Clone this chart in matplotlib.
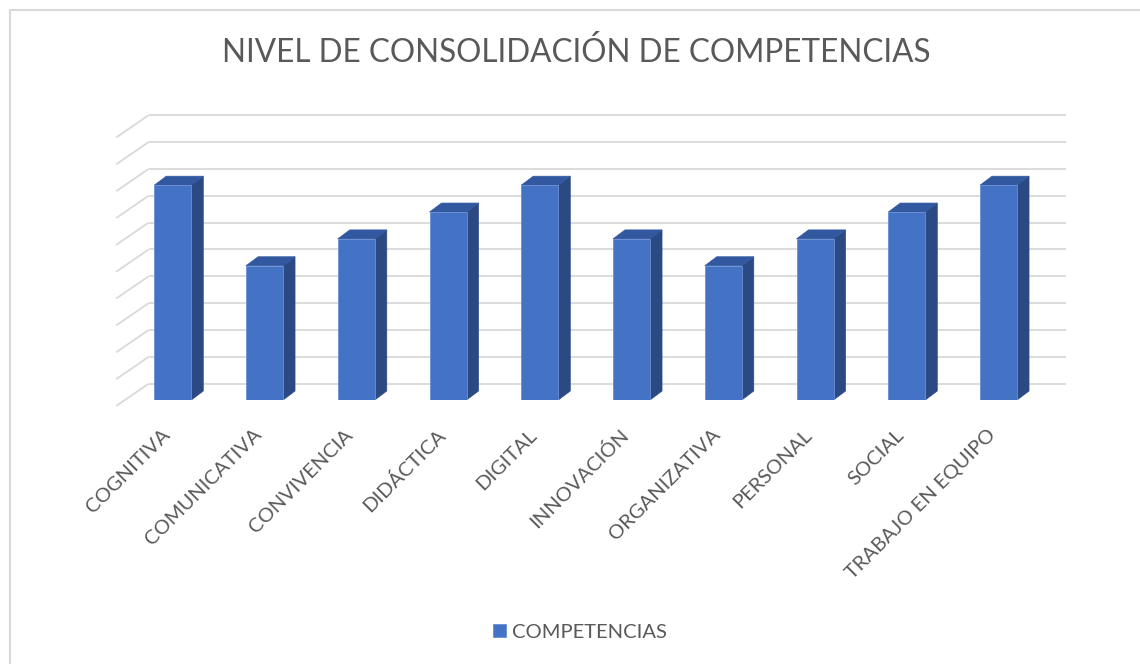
"""
Nivel de consolidacion de competencias: columnas 3D estilo Excel
"""
import numpy as np
import matplotlib
matplotlib.use('Agg')
import matplotlib.pyplot as plt
from matplotlib.patches import Polygon, Rectangle
from matplotlib.transforms import ScaledTranslation

categories = ['COGNITIVA', 'COMUNICATIVA', 'CONVIVENCIA', 'DIDÁCTICA', 'DIGITAL',
              'INNOVACIÓN', 'ORGANIZATIVA', 'PERSONAL', 'SOCIAL', 'TRABAJO EN EQUIPO']
values = [8, 5, 6, 7, 8, 6, 5, 6, 7, 8]
series_name = 'COMPETENCIAS'
title = 'NIVEL DE CONSOLIDACIÓN DE COMPETENCIAS'
y_max = 10

plt.rcParams['font.family'] = ['Lato', 'DejaVu Sans']
text_col = '#595959'
grid_col = '#d9d9d9'
front_col = '#4472c4'
top_col = '#3259a0'
side_col = '#2b4a84'

W, H, DPI = 1140, 664, 100
fig = plt.figure(figsize=(W / DPI, H / DPI), dpi=DPI)

# front plane of the bars
ax_l, ax_r, ax_b, ax_t = 126.9, 1044.4, 400.0, 131.5
ax = fig.add_axes([ax_l / W, 1 - ax_b / H, (ax_r - ax_l) / W, (ax_b - ax_t) / H])
x = np.arange(len(categories))
xlo, xhi = -0.5, len(categories) - 0.5
ax.set_xlim(xlo, xhi)
ax.set_ylim(0, y_max)

# pixel offsets -> data units
px_x = (ax_r - ax_l) / (xhi - xlo)
px_y = (ax_b - ax_t) / y_max
wall_dx, wall_dy = 21.7 / px_x, 16.3 / px_y      # front plane -> back wall
floor_dx, floor_dy = -10.7 / px_x, -6.0 / px_y   # front plane -> floor front edge
bar_dx, bar_dy = 12.0 / px_x, 9.0 / px_y         # bar depth
bw = 37.0 / px_x

# back wall gridlines + left wall diagonals
for k in range(y_max + 1):
    ax.plot([xlo + wall_dx, xhi + wall_dx], [k + wall_dy, k + wall_dy],
            color=grid_col, lw=1.3, zorder=1, clip_on=False, solid_capstyle='butt')
    ax.plot([xlo + floor_dx, xlo + wall_dx], [k + floor_dy, k + wall_dy],
            color=grid_col, lw=1.3, zorder=1, clip_on=False, solid_capstyle='butt')

bars = ax.bar(x, values, width=bw, color=front_col, edgecolor='#6a8fd3',
              linewidth=0.6, zorder=3, label=series_name)
for xi, v in zip(x, values):
    l, r = xi - bw / 2, xi + bw / 2
    side = Polygon([(r, 0), (r + bar_dx, bar_dy), (r + bar_dx, v + bar_dy), (r, v)],
                   closed=True, fc=side_col, ec=side_col, lw=0.5, zorder=2)
    top = Polygon([(l, v), (l + bar_dx, v + bar_dy), (r + bar_dx, v + bar_dy), (r, v)],
                  closed=True, fc=top_col, ec=top_col, lw=0.5, zorder=2)
    ax.add_patch(side)
    ax.add_patch(top)

for s in ax.spines.values():
    s.set_visible(False)
ax.set_yticks([])
ax.set_xticks(x)
ax.set_xticklabels(categories, rotation=45, ha='right', va='center',
                   rotation_mode='anchor', fontsize=14.5, color=text_col)
ax.tick_params(axis='x', length=0, pad=23)
shift = ScaledTranslation(-6 / DPI, 0, fig.dpi_scale_trans)
for lab in ax.get_xticklabels():
    lab.set_transform(lab.get_transform() + shift)

fig.text(576.5 / W, 1 - 53 / H, title, ha='center', va='center',
         fontsize=22.7, color=text_col)

fig.legend(handles=[bars], labels=[series_name], loc='center',
           bbox_to_anchor=(580 / W, 1 - 632 / H), frameon=False,
           fontsize=14.5, labelcolor=text_col, handlelength=0.65, handleheight=0.65,
           handletextpad=0.3)

fig.patches.append(Rectangle((9.5 / W, -0.1), 1.2, 1.1 - 9.5 / H,
                             transform=fig.transFigure, fill=False,
                             ec=grid_col, lw=1.5))

fig.savefig('out.png', dpi=DPI)
